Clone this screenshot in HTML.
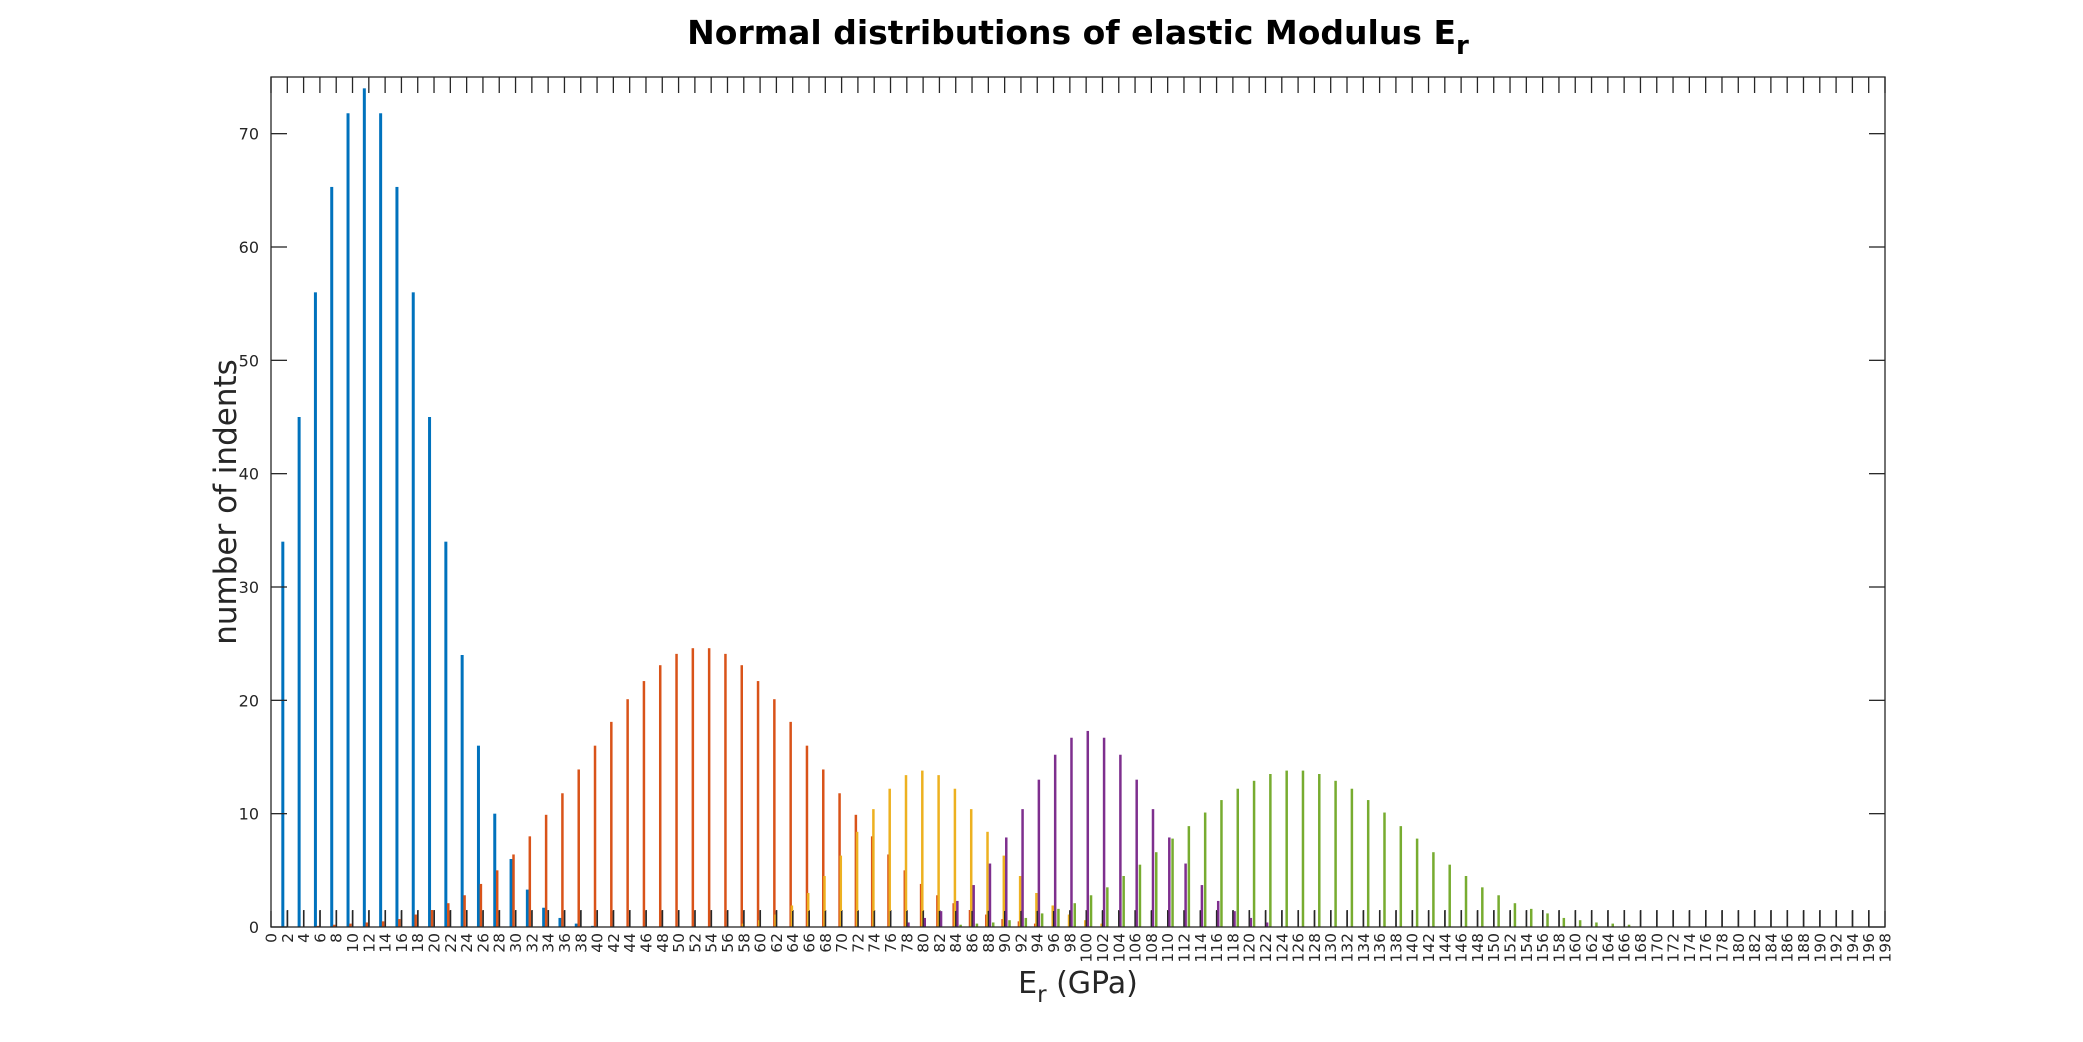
<!DOCTYPE html>
<html><head><meta charset="utf-8"><style>
html,body{margin:0;padding:0;background:#fff;}
svg{display:block;font-family:"DejaVu Sans","Liberation Sans",sans-serif;}
</style></head><body>
<svg id="chart" width="2083" height="1042" viewBox="0 0 2083 1042" xmlns="http://www.w3.org/2000/svg">
<rect width="2083" height="1042" fill="#fff"/>
<text x="1078" y="44" text-anchor="middle" font-size="33" font-weight="bold" fill="#000">Normal distributions of elastic Modulus E<tspan font-size="26" dy="10">r</tspan></text>
<g id="bars"></g>
<g id="axes"></g>
<text x="1078" y="993" text-anchor="middle" font-size="30" fill="#262626">E<tspan font-size="23" dy="9">r</tspan><tspan dy="-9"> (GPa)</tspan></text>
<text transform="translate(236,502) rotate(-90)" text-anchor="middle" font-size="31" fill="#262626">number of indents</text>
</svg>
<script>
const blueX=[2,4,6,8,10,12,14,16,18,20,22,24,26,28,30,32,34,36,38,40];
const blueV=[34,45,56,65.3,71.8,74,71.8,65.3,56,45,34,24,16,10,6,3.3,1.7,0.8,0.3,0.1];
const orangeX=[6,8,10,12,14,16,18,20,22,24,26,28,30,32,34,36,38,40,42,44,46,48,50,52,54,56,58,60,62,64,66,68,70,72,74,76,78,80,82,84,86,88,90,92,94];
const orangeV=[0.1,0.2,0.3,0.4,0.5,0.7,1.1,1.5,2.1,2.8,3.8,5,6.4,8,9.9,11.8,13.9,16,18.1,20.1,21.7,23.1,24.1,24.6,24.6,24.1,23.1,21.7,20.1,18.1,16,13.9,11.8,9.9,8,6.4,5,3.8,2.8,2.1,1.5,1.1,0.7,0.5,0.3];
const yellowX=[58,60,62,64,66,68,70,72,74,76,78,80,82,84,86,88,90,92,94,96,98,100,102];
const yellowV=[0.3,0.6,1.1,1.9,3.0,4.5,6.3,8.4,10.4,12.2,13.4,13.8,13.4,12.2,10.4,8.4,6.3,4.5,3.0,1.9,1.1,0.6,0.3];
const purpleX=[78,80,82,84,86,88,90,92,94,96,98,100,102,104,106,108,110,112,114,116,118,120,122];
const purpleV=[0.4,0.8,1.4,2.3,3.7,5.6,7.9,10.4,13,15.2,16.7,17.3,16.7,15.2,13,10.4,7.9,5.6,3.7,2.3,1.4,0.8,0.4];
const greenX=[84,86,88,90,92,94,96,98,100,102,104,106,108,110,112,114,116,118,120,122,124,126,128,130,132,134,136,138,140,142,144,146,148,150,152,154,156,158,160,162,164,166];
const greenV=[0.2,0.3,0.4,0.6,0.8,1.2,1.6,2.1,2.8,3.5,4.5,5.5,6.6,7.8,8.9,10.1,11.2,12.2,12.9,13.5,13.8,13.8,13.5,12.9,12.2,11.2,10.1,8.9,7.8,6.6,5.5,4.5,3.5,2.8,2.1,1.6,1.2,0.8,0.6,0.4,0.3,0.2];
const baseX=[];for(let i=2;i<=196;i+=2)baseX.push(i);
const baseV=baseX.map(()=>1.5);
const yTicks=[0,10,20,30,40,50,60,70];
const xTicks=[];for(let i=0;i<=198;i+=2)xTicks.push(i);

const L=271,R=1885,T=77,B=927,XMAX=198,YMAX=75;
const sx=v=>L+(v/XMAX)*(R-L);
const sy=v=>B-(v/YMAX)*(B-T);
const NS="http://www.w3.org/2000/svg";
const bars=document.getElementById('bars'),axes=document.getElementById('axes');
function mk(tag,attrs,parent){const e=document.createElementNS(NS,tag);for(const k in attrs)e.setAttribute(k,attrs[k]);parent.appendChild(e);return e;}
function series(xs,vs,off,w,color,name){
  xs.forEach((x,i)=>{
    const cx=sx(x+off),y=sy(vs[i]);
    const r=mk('rect',{x:cx-w/2,y:y,width:w,height:B-y,fill:color},bars);
    
    
  });
}
series(baseX,baseV,0.02,1.6,'#333333','baseline-series');
series(blueX,blueV,-0.55,3,'#0072BD','blue-series');
series(orangeX,orangeV,-0.25,2.5,'#D95319','orange-series');
series(yellowX,yellowV,-0.1,2.5,'#EDB120','yellow-series');
series(purpleX,purpleV,0.2,2.5,'#7E2F8E','purple-series');
series(greenX,greenV,0.6,2.5,'#77AC30','green-series');

const box=mk('rect',{x:L,y:T,width:R-L,height:B-T,fill:'none',stroke:'#262626','stroke-width':1.3},axes);


yTicks.forEach(v=>{
  const y=sy(v);
  mk('line',{x1:L,y1:y,x2:L+16,y2:y,stroke:'#262626','stroke-width':1.3},axes);
  mk('line',{x1:R,y1:y,x2:R-16,y2:y,stroke:'#262626','stroke-width':1.3},axes);
  const t=mk('text',{x:L-12,y:y+6,'text-anchor':'end','font-size':16,fill:'#262626'},axes);
  t.textContent=v;
  
  
});
xTicks.forEach(v=>{
  const x=sx(v);
  mk('line',{x1:x,y1:T,x2:x,y2:T+16,stroke:'#262626','stroke-width':1.3},axes);
  mk('line',{x1:x,y1:B,x2:x,y2:B-16,stroke:'#262626','stroke-width':1.3},axes);
  const t=mk('text',{transform:`translate(${x+5.5},933) rotate(-90)`,'text-anchor':'end','font-size':15.5,fill:'#262626'},axes);
  t.textContent=v;
  
  
});
</script>
</body></html>
